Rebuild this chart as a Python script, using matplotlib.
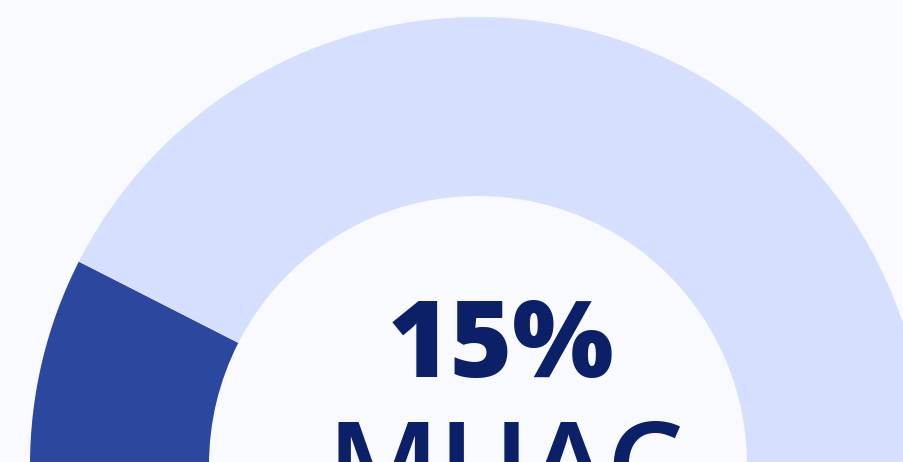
import matplotlib
matplotlib.use("Agg")
import matplotlib.pyplot as plt

# data
labels = ["MUAC", "Rest", "Hidden"]
values = [15, 85, 100]  # percent of half-gauge, plus hidden lower half
value_label = "15%"
category_label = "MUAC"

bg = "#F8FAFF"
colors = ["#2B489E", "#D6DFFE", bg]
text_color = "#0B2066"

fig = plt.figure(figsize=(9.04, 4.62), dpi=100, facecolor=bg)
ax = fig.add_axes([0, 0, 1, 1])
ax.set_facecolor(bg)

wedges, _ = ax.pie(values, colors=colors, startangle=180, counterclock=False,
                   center=(478, -3), radius=448,
                   wedgeprops=dict(width=179, linewidth=0))
wedges[2].set_visible(False)

ax.set_xlim(0, 904)
ax.set_ylim(0, 462)
ax.set_aspect("equal")
ax.axis("off")

ax.text(501, 85, value_label, ha="center", va="baseline", fontsize=77,
        fontweight="heavy", family=["Open Sans", "DejaVu Sans"], color=text_color)
ax.text(506, -47, category_label, ha="center", va="baseline", fontsize=88,
        fontweight="semibold", family=["Open Sans", "DejaVu Sans"], color=text_color)

fig.savefig("out.png", dpi=100, facecolor=bg)
